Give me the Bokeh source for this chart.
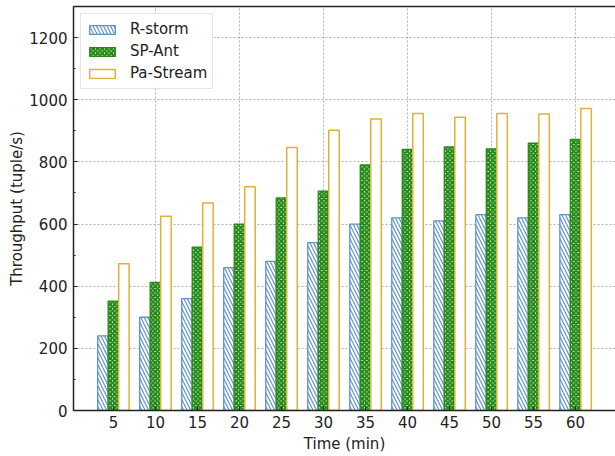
from bokeh.plotting import figure
from bokeh.models import (ColumnDataSource, Range1d, LinearAxis, FixedTicker,
                          Grid, Legend, LegendItem)
from bokeh.transform import dodge
from bokeh.embed import file_html
from bokeh.resources import INLINE

times = [5, 10, 15, 20, 25, 30, 35, 40, 45, 50, 55, 60]
r_storm = [240, 300, 360, 460, 480, 540, 600, 620, 610, 630, 620, 630]
sp_ant = [352, 412, 526, 600, 684, 706, 790, 840, 848, 842, 860, 872]
pa_stream = [472, 625, 668, 720, 846, 902, 938, 956, 944, 956, 954, 972]
series_names = ["R-storm", "SP-Ant", "Pa-Stream"]
y_ticks = [0, 200, 400, 600, 800, 1000, 1200]
x_grid = [10, 20, 30, 40, 50, 60]

FONT = "DejaVu Sans"
BW = 1.25

src = ColumnDataSource(dict(t=times, r=r_storm, s=sp_ant, p=pa_stream))

p = figure(width=611, height=456, output_backend="svg", toolbar_location=None,
           x_range=Range1d(0.25, 64.75), y_range=Range1d(0, 1300),
           x_axis_location=None, y_axis_location=None)
p.margin = (0, 0, 0, 4)
p.min_border_left = 69
p.min_border_right = 0
p.min_border_top = 6
p.min_border_bottom = 46
p.outline_line_color = None
p.background_fill_color = "white"
p.border_fill_color = "white"
p.xgrid.visible = False
p.ygrid.visible = False

# axes
yax = LinearAxis(ticker=FixedTicker(ticks=y_ticks, minor_ticks=list(range(0, 1301, 100))))
xax = LinearAxis(ticker=FixedTicker(ticks=times))
top = LinearAxis(ticker=FixedTicker(ticks=[]), major_label_text_font_size="0px",
                 major_tick_line_color=None, minor_tick_line_color=None)
for ax in (yax, xax, top):
    ax.axis_line_color = "#222222"
    ax.axis_line_width = 1.5
for ax in (yax, xax):
    ax.major_tick_in = 4
    ax.major_tick_out = 0
    ax.minor_tick_in = 2
    ax.minor_tick_out = 0
    ax.major_tick_line_color = "#222222"
    ax.minor_tick_line_color = "#222222"
    ax.major_label_text_font = FONT
    ax.major_label_text_font_size = "15px"
    ax.major_label_text_color = "#222222"
    ax.axis_label_text_font = FONT
    ax.axis_label_text_font_size = "15px"
    ax.axis_label_text_font_style = "normal"
    ax.axis_label_text_color = "#222222"
xax.minor_tick_line_color = None
yax.axis_label = "Throughput (tuple/s)"
xax.axis_label = "Time (min)"
yax.major_label_standoff = 6
yax.axis_label_standoff = 0
xax.major_label_standoff = 5
xax.axis_label_standoff = 4
p.add_layout(yax, "left")
p.add_layout(xax, "below")
p.add_layout(top, "above")

# grids
for g in (Grid(dimension=1, ticker=FixedTicker(ticks=y_ticks)),
          Grid(dimension=0, ticker=FixedTicker(ticks=x_grid))):
    g.grid_line_color = "#b0b0b0"
    g.grid_line_dash = "2 2"
    g.grid_line_width = 1
    p.add_layout(g)

blue = "#5f92cc"
green = "#268a17"
gold = "#e2b034"

r1 = p.vbar(x=dodge("t", -BW, range=p.x_range), top="r", width=BW, source=src,
            fill_color="white", line_color=blue, line_width=1.3,
            hatch_pattern="\\", hatch_color=blue, hatch_scale=7, hatch_weight=1.2)
r2 = p.vbar(x=dodge("t", 0, range=p.x_range), top="s", width=BW, source=src,
            fill_color="white", line_color=green, line_width=1.3,
            hatch_pattern="x", hatch_color=green, hatch_scale=4.5, hatch_weight=2.3)
r3 = p.vbar(x=dodge("t", BW, range=p.x_range), top="p", width=BW, source=src,
            fill_color="white", line_color=gold, line_width=1.5)

legend = Legend(items=[LegendItem(label=series_names[0], renderers=[r1]),
                       LegendItem(label=series_names[1], renderers=[r2]),
                       LegendItem(label=series_names[2], renderers=[r3])],
                location="top_left")
legend.margin = 7
legend.padding = 5
legend.spacing = 2
legend.glyph_width = 32
legend.glyph_height = 11
legend.label_height = 20
legend.label_standoff = 12
legend.label_text_font = FONT
legend.label_text_font_size = "15px"
legend.label_text_color = "#222222"
legend.border_line_color = "#cccccc"
legend.border_line_width = 1
legend.background_fill_alpha = 0.9
p.add_layout(legend)

open("out.html", "w").write(file_html(p, INLINE))
